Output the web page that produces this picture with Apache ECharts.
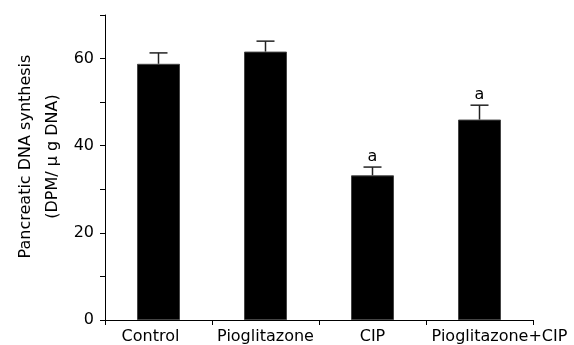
<!DOCTYPE html>
<html>
<head>
<meta charset="utf-8">
<script src="https://cdn.jsdelivr.net/npm/echarts@6/dist/echarts.min.js"></script>
<style>html,body{margin:0;padding:0;background:#fff;}#c{width:574px;height:345px;}</style>
</head>
<body>
<div id="c"></div>
<script>
var categories = ['Control', 'Pioglitazone', 'CIP', 'Pioglitazone+CIP'];
var means = [58.8, 61.6, 33.2, 46.0];
var errors = [2.5, 2.4, 1.9, 3.3];
var marks = ['', '', 'a', 'a'];
var yTickValues = [0, 10, 20, 30, 40, 50, 60, 70];
var yLabelValues = [0, 20, 40, 60];

var chart = echarts.init(document.getElementById('c'));
var font = 'DejaVu Sans';
var catData = categories.map(function (c, i) {
  var item = { value: c };
  if (i === 0) item.textStyle = { padding: [0, 16, 0, 0] };
  if (i === 3) item.textStyle = { padding: [0, 0, 0, 40] };
  return item;
});
chart.setOption({
  animation: false,
  backgroundColor: '#fff',
  grid: { left: 105, right: 41, top: 15, bottom: 25 },
  xAxis: {
    type: 'category',
    data: catData,
    axisLine: { lineStyle: { color: '#000', width: 1 } },
    axisTick: { show: true, length: 5, lineStyle: { color: '#000' } },
    axisLabel: { color: '#000', fontFamily: font, fontSize: 16, margin: 9, interval: 0 }
  },
  yAxis: {
    type: 'value', min: 0, max: 70, interval: 10,
    name: 'Pancreatic DNA synthesis\n(DPM/ μ g DNA)',
    nameLocation: 'middle', nameRotate: 90, nameGap: 39, nameMoveOverlap: false,
    nameTextStyle: { color: '#000', fontFamily: font, fontSize: 16, lineHeight: 27, padding: [0, 0, 0, 22] },
    axisLine: { show: true, lineStyle: { color: '#000', width: 1 } },
    axisTick: { show: true, length: 5, customValues: yTickValues, lineStyle: { color: '#000' } },
    axisLabel: { color: '#000', fontFamily: font, fontSize: 16, margin: 11, customValues: yLabelValues },
    splitLine: { show: false }
  },
  series: [
    {
      type: 'bar', data: means, barWidth: 43,
      itemStyle: { color: '#000', borderColor: '#444', borderWidth: 1 }
    },
    {
      type: 'custom',
      data: means.map(function (m, i) { return [i, m, errors[i], marks[i]]; }),
      renderItem: function (params, api) {
        var x = api.value(0), m = api.value(1), e = api.value(2);
        var p0 = api.coord([x, m]);
        var p1 = api.coord([x, m + e]);
        var mark = marks[params.dataIndex];
        var children = [
          { type: 'line', shape: { x1: p0[0], y1: p0[1], x2: p1[0], y2: p1[1] }, style: { stroke: '#222', lineWidth: 1.5 } },
          { type: 'line', shape: { x1: p1[0] - 9, y1: p1[1], x2: p1[0] + 9, y2: p1[1] }, style: { stroke: '#222', lineWidth: 1.5 } }
        ];
        if (mark) {
          children.push({ type: 'text', style: { text: mark, x: p1[0], y: p1[1] - 2, textAlign: 'center', textVerticalAlign: 'bottom', fontFamily: font, fontSize: 16, fill: '#000' } });
        }
        return { type: 'group', children: children };
      },
      z: 3
    }
  ]
});
</script>
</body>
</html>
